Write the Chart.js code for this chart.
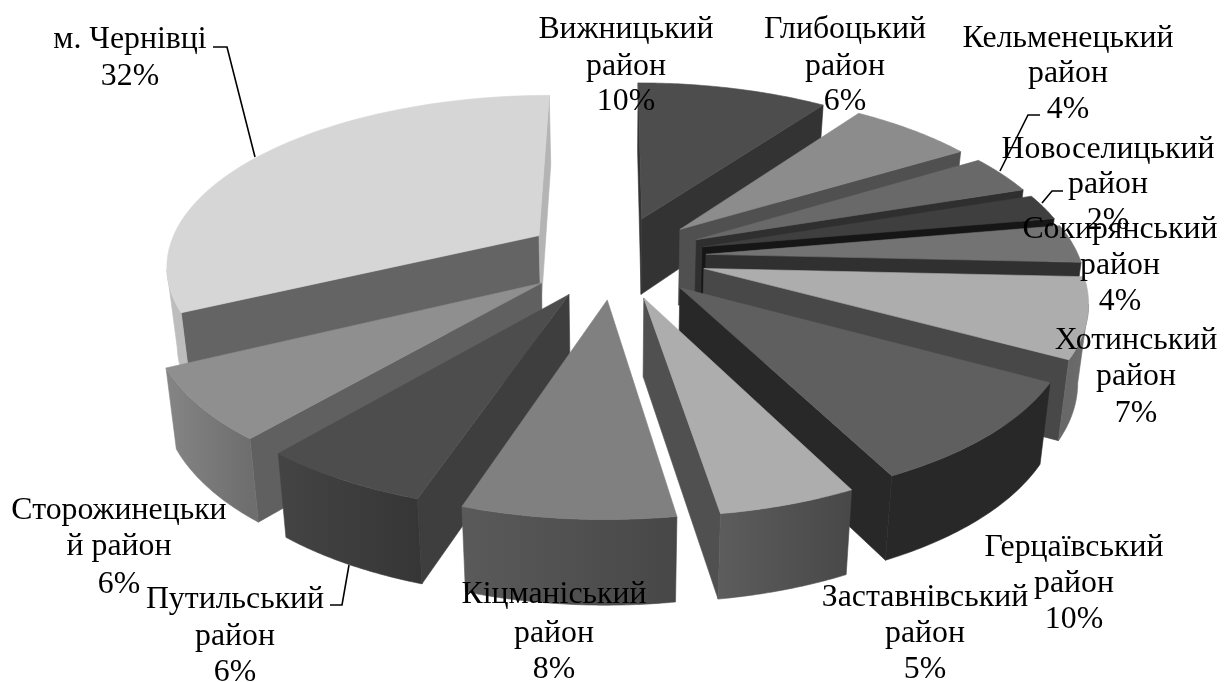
<!DOCTYPE html>
<html>
<head>
<meta charset="utf-8">
<title>Райони</title>
<script src="https://cdn.jsdelivr.net/npm/chart.js@4/dist/chart.umd.min.js"></script>
<style>
  html, body { margin: 0; padding: 0; background: #fff; }
  #chart { display: block; }
</style>
</head>
<body>
<canvas id="chart" width="1230" height="682"></canvas>
<script>
const districts = ['Вижницький район', 'Глибоцький район', 'Кельменецький район', 'Новоселицький район',
  'Сокирянський район', 'Хотинський район', 'Герцаївський район', 'Заставнівський район',
  'Кіцманіський район', 'Путильський район', 'Сторожинецький район', 'м. Чернівці'];
const shares = [9.8, 6.4, 3.6, 2.4, 3.55, 7.35, 9.55, 4.9, 7.5, 6.05, 6.6, 32.3];
const printedPercents = [10, 6, 4, 2, 4, 7, 10, 5, 8, 6, 6, 32];

// grey levels per slice
const topGreys = [77, 140, 105, 63, 115, 173, 95, 173, 128, 77, 143, 214];
const startFaceGreys = [51, 80, 47, 22, 48, 72, 40, 80, 80, 62, 96, 100];
const endFaceGreys = [51, 80, 47, 22, 48, 72, 40, 80, 80, 62, 96, 180];
const wallFromGreys = [60, 90, 70, 40, 70, 110, 40, 72, 71, 54, 110, 189];
const wallToGreys = [60, 90, 70, 40, 70, 104, 40, 92, 90, 68, 133, 189];

// text placement for the data labels, x is the line centre
const labelSpots = [
  { x: 626, y: [28, 65, 100], lines: ['Вижницький', 'район'] },
  { x: 845, y: [28, 65, 100], lines: ['Глибоцький', 'район'] },
  { x: 1068, y: [37, 72, 108], lines: ['Кельменецький', 'район'] },
  { x: 1108, y: [148, 183, 219], lines: ['Новоселицький', 'район'] },
  { x: 1120, y: [228, 264, 300], lines: ['Сокирянський', 'район'] },
  { x: 1136, y: [339, 375, 412], lines: ['Хотинський', 'район'] },
  { x: 1074, y: [546, 582, 618], lines: ['Герцаївський', 'район'] },
  { x: 925, y: [596, 632, 668], lines: ['Заставнівський', 'район'] },
  { x: 554, y: [593, 632, 668], lines: ['Кіцманіський', 'район'] },
  { x: 235, y: [598, 635, 671], lines: ['Путильський', 'район'] },
  { x: 119, y: [509, 545, 583], lines: ['Сторожинецьки', 'й район'] },
  { x: 130, y: [38, 75], lines: ['м. Чернівці'] }
];
const leaderLines = [
  [[213, 47], [227, 47], [255, 157]],
  [[1040, 115], [1028, 115], [1000, 171]],
  [[1063, 191], [1052, 191], [1042, 203]],
  [[330, 605], [342, 605], [349, 565]]
];

// camera used to lay the flat pie on the table
const view = { cx: 615, cy: 257, rx: 373, ry: 169, persp: 0.16, explode: 0.245, depth: 77, shrink: 0.977 };

function grey(n) {
  const g = Math.round(n);
  return 'rgb(' + g + ',' + g + ',' + g + ')';
}

function project(u, v, lower) {
  const s = 1 / (1 - view.persp * v);
  let x = view.cx + view.rx * u * s;
  let y = view.cy + view.ry * v * s;
  if (lower) {
    x = view.cx + (x - view.cx) * view.shrink;
    y += view.depth * (1 + 0.09 * v);
  }
  return [x, y];
}

function fillPoly(ctx, pts, color) {
  ctx.beginPath();
  pts.forEach((p, i) => i ? ctx.lineTo(p[0], p[1]) : ctx.moveTo(p[0], p[1]));
  ctx.closePath();
  ctx.fillStyle = color;
  ctx.strokeStyle = color;
  ctx.lineWidth = 0.6;
  ctx.fill();
  ctx.stroke();
}

function drawSlice(ctx, arc, i) {
  // chart.js angles start at 3 o'clock, here 0 is up and clockwise
  const a0 = arc.startAngle + Math.PI / 2;
  const a1 = arc.endAngle + Math.PI / 2;
  const mid = (a0 + a1) / 2;
  const u0 = view.explode * Math.sin(mid);
  const v0 = -view.explode * Math.cos(mid);
  const rim = (a, lower) => project(u0 + Math.sin(a), v0 - Math.cos(a), lower);
  const apex = lower => project(u0, v0, lower);

  // cut faces
  const startDx = rim(a0)[0] - apex()[0];
  const endDx = rim(a1)[0] - apex()[0];
  if (startDx < 0) fillPoly(ctx, [apex(), rim(a0), rim(a0, true), apex(true)], grey(startFaceGreys[i]));
  if (endDx > 0) fillPoly(ctx, [apex(), rim(a1), rim(a1, true), apex(true)], grey(endFaceGreys[i]));

  // outer wall, only where the rim runs to the left on screen
  const steps = 48;
  const upper = [];
  const lowerEdge = [];
  for (let k = 0; k <= steps; k++) {
    const p = a0 + (a1 - a0) * k / steps;
    const q = p + 0.001;
    if (rim(q)[0] - rim(p)[0] < 0) {
      upper.push(rim(p));
      lowerEdge.unshift(rim(p, true));
    }
  }
  if (upper.length > 1) {
    const shade = ctx.createLinearGradient(upper[0][0], 0, upper[upper.length - 1][0], 0);
    shade.addColorStop(0, grey(wallFromGreys[i]));
    shade.addColorStop(1, grey(wallToGreys[i]));
    fillPoly(ctx, upper.concat(lowerEdge), shade);
  }

  // top face
  const top = [apex()];
  for (let k = 0; k <= steps; k++) top.push(rim(a0 + (a1 - a0) * k / steps));
  fillPoly(ctx, top, grey(topGreys[i]));
}

const table3d = {
  id: 'table3d',
  beforeDatasetsDraw(chart) {
    const ctx = chart.ctx;
    const arcs = chart.getDatasetMeta(0).data;
    const order = arcs.map((arc, i) => i).sort((m, n) => {
      const depth = k => Math.cos((arcs[k].startAngle + arcs[k].endAngle) / 2 + Math.PI / 2);
      return depth(n) - depth(m);
    });
    ctx.save();
    order.forEach(i => drawSlice(ctx, arcs[i], i));
    ctx.restore();
    return false;
  },
  afterDraw(chart) {
    const ctx = chart.ctx;
    ctx.save();
    ctx.strokeStyle = '#000';
    ctx.lineWidth = 1.6;
    leaderLines.forEach(line => {
      ctx.beginPath();
      line.forEach((p, i) => i ? ctx.lineTo(p[0], p[1]) : ctx.moveTo(p[0], p[1]));
      ctx.stroke();
    });
    ctx.fillStyle = '#000';
    ctx.font = '31.8px "Liberation Serif"';
    ctx.textAlign = 'center';
    ctx.textBaseline = 'middle';
    labelSpots.forEach((spot, i) => {
      const texts = spot.lines.concat(printedPercents[i] + '%');
      texts.forEach((t, k) => ctx.fillText(t, spot.x, spot.y[k] + 1.5));
    });
    ctx.restore();
  }
};

new Chart(document.getElementById('chart'), {
  type: 'pie',
  data: {
    labels: districts,
    datasets: [{
      data: shares,
      backgroundColor: topGreys.map(grey),
      borderWidth: 0
    }]
  },
  options: {
    responsive: false,
    animation: false,
    plugins: {
      legend: { display: false },
      tooltip: { enabled: false }
    }
  },
  plugins: [table3d]
});
</script>
</body>
</html>
